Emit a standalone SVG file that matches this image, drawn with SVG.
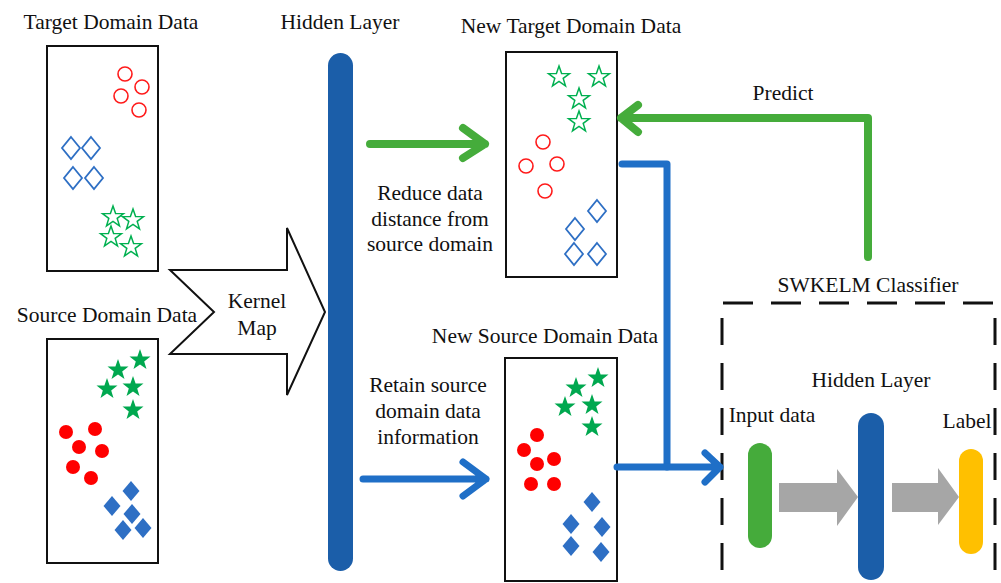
<svg xmlns="http://www.w3.org/2000/svg" width="1001" height="583" viewBox="0 0 1001 583" font-family="'Liberation Serif', 'Times New Roman', serif">
<style>
text{font-family:'Liberation Serif','Times New Roman',serif;font-size:21.5px;fill:#111;text-anchor:middle}
.box{fill:none;stroke:#111;stroke-width:2}
.oc{fill:none;stroke:#ff1a1a;stroke-width:1.6}
.fc{fill:#ff0000}
.od{fill:none;stroke:#2e6fc4;stroke-width:1.8}
.fd{fill:#2e6fc4}
.os{fill:none;stroke:#00b050;stroke-width:1.5}
.fs{fill:#00a84f}
.ga{fill:none;stroke:#45ac3b;stroke-width:8;stroke-linecap:round;stroke-linejoin:round}
.ba{fill:none;stroke:#1f6fc7;stroke-width:7;stroke-linecap:round;stroke-linejoin:round}
</style>
<defs>
<path id="star" d="M0,-11 L2.6,-3.6 L10.5,-3.4 L4.2,1.4 L6.5,8.9 L0,4.4 L-6.5,8.9 L-4.2,1.4 L-10.5,-3.4 L-2.6,-3.6 Z"/>
<path id="dia" d="M0,-11 L9,0 L0,11 L-9,0 Z"/>
<path id="diaf" d="M0,-10 L8.5,0 L0,10 L-8.5,0 Z"/>
</defs>
<rect width="1001" height="583" fill="#fff"/>

<g id="target-domain">
<text x="111" y="29">Target Domain Data</text>
<rect class="box" x="47" y="46" width="111" height="225"/>
<circle class="oc" cx="125" cy="74" r="7"/><circle class="oc" cx="142" cy="87" r="7"/><circle class="oc" cx="121" cy="96" r="7"/><circle class="oc" cx="139" cy="110" r="7"/>
<use href="#dia" class="od" x="71" y="148"/><use href="#dia" class="od" x="91" y="148"/><use href="#dia" class="od" x="73" y="178"/><use href="#dia" class="od" x="94" y="178"/>
<use href="#star" class="os" x="113" y="217"/><use href="#star" class="os" x="133" y="220"/><use href="#star" class="os" x="111" y="237"/><use href="#star" class="os" x="131" y="247"/>
</g>

<g id="source-domain">
<text x="107" y="322">Source Domain Data</text>
<rect class="box" x="47" y="339" width="111" height="224"/>
<use href="#star" class="fs" x="140" y="360"/><use href="#star" class="fs" x="118" y="370"/><use href="#star" class="fs" x="107" y="389"/><use href="#star" class="fs" x="133" y="387"/><use href="#star" class="fs" x="133" y="410"/>
<circle class="fc" cx="66" cy="432" r="7"/><circle class="fc" cx="95" cy="429" r="7"/><circle class="fc" cx="79" cy="447" r="7"/><circle class="fc" cx="102" cy="451" r="7"/><circle class="fc" cx="73" cy="467" r="7"/><circle class="fc" cx="91" cy="478" r="7"/>
<use href="#diaf" class="fd" x="131" y="491"/><use href="#diaf" class="fd" x="112" y="506"/><use href="#diaf" class="fd" x="132" y="514"/><use href="#diaf" class="fd" x="123" y="530"/><use href="#diaf" class="fd" x="143" y="528"/>
</g>

<g id="kernel-map">
<polygon points="170,270 287,270 287,228 325,312 287,395 287,354 170,354 214,312" fill="#fff" stroke="#111" stroke-width="2" stroke-linejoin="miter"/>
<text x="257" y="308">Kernel</text>
<text x="257" y="335">Map</text>
</g>

<g id="hidden-layer">
<text x="340" y="29">Hidden Layer</text>
<rect x="328" y="53" width="25" height="518" rx="12.5" fill="#1b5ea9"/>
</g>

<g id="new-target-domain">
<text x="571" y="33">New Target Domain Data</text>
<rect class="box" x="506" y="52" width="111" height="225"/>
<use href="#star" class="os" x="559" y="77"/><use href="#star" class="os" x="599" y="77"/><use href="#star" class="os" x="579" y="99"/><use href="#star" class="os" x="579" y="122"/>
<circle class="oc" cx="543" cy="142" r="7"/><circle class="oc" cx="526" cy="166" r="7"/><circle class="oc" cx="557" cy="164" r="7"/><circle class="oc" cx="545" cy="191" r="7"/>
<use href="#dia" class="od" x="597" y="211"/><use href="#dia" class="od" x="575" y="229"/><use href="#dia" class="od" x="574" y="254"/><use href="#dia" class="od" x="597" y="254"/>
</g>

<g id="new-source-domain">
<text x="545" y="343">New Source Domain Data</text>
<rect class="box" x="505" y="358" width="112" height="223"/>
<use href="#star" class="fs" x="598" y="378"/><use href="#star" class="fs" x="576" y="388"/><use href="#star" class="fs" x="565" y="407"/><use href="#star" class="fs" x="592" y="405"/><use href="#star" class="fs" x="592" y="427"/>
<circle class="fc" cx="537" cy="435" r="7"/><circle class="fc" cx="524" cy="450" r="7"/><circle class="fc" cx="537" cy="464" r="7"/><circle class="fc" cx="554" cy="459" r="7"/><circle class="fc" cx="531" cy="484" r="7"/><circle class="fc" cx="554" cy="484" r="7"/>
<use href="#diaf" class="fd" x="592" y="502"/><use href="#diaf" class="fd" x="571" y="524"/><use href="#diaf" class="fd" x="602" y="527"/><use href="#diaf" class="fd" x="571" y="546"/><use href="#diaf" class="fd" x="601" y="552"/>
</g>

<g id="swkelm-classifier">
<text x="868" y="292">SWKELM Classifier</text>
<path d="M723,303 H1001" fill="none" stroke="#111" stroke-width="3" stroke-dasharray="30 18"/>
<path d="M722,318 V583" fill="none" stroke="#111" stroke-width="3" stroke-dasharray="27 18"/>
<path d="M995,318 V583" fill="none" stroke="#111" stroke-width="3" stroke-dasharray="27 18"/>
<text x="871" y="387">Hidden Layer</text>
<text x="772" y="422">Input data</text>
<text x="967" y="428">Label</text>
<rect x="748" y="443" width="24" height="105" rx="12" fill="#45ab3b"/>
<rect x="858" y="413" width="26" height="167" rx="13" fill="#1b5ea9"/>
<rect x="959" y="449" width="24" height="105" rx="12" fill="#ffc000"/>
<polygon points="779,483 837,483 837,469 858,497 837,526 837,512 779,512" fill="#a6a6a6"/>
<polygon points="892,483 938,483 938,468 959,497 938,525 938,512 892,512" fill="#a6a6a6"/>
</g>

<g id="connectors">
<path class="ga" d="M370,144 H485 M463,128 L485,144 L463,158"/>
<path class="ba" d="M363,479 H486 M463,462 L486,479 L463,496"/>
<path class="ga" d="M868,257 V118 H621 M638,105 L621,118 L638,132"/>
<path class="ba" d="M622,164 H667 V467"/>
<path class="ba" d="M617,467 H720 M705,453 L720,467 L705,482"/>
<text x="783" y="100">Predict</text>
<text x="430" y="200">Reduce data</text>
<text x="430" y="226">distance from</text>
<text x="430" y="251">source domain</text>
<text x="428" y="392">Retain source</text>
<text x="428" y="418">domain data</text>
<text x="428" y="444">information</text>
</g>
</svg>
